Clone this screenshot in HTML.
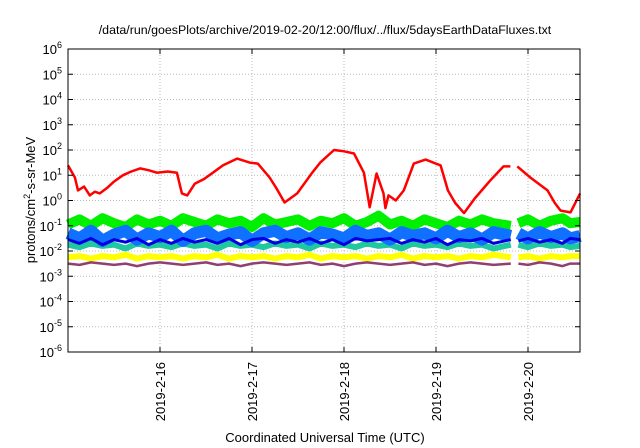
<!DOCTYPE html>
<html><head><meta charset="utf-8"><style>
body{margin:0;background:#fff;}
svg{display:block;font-family:"Liberation Sans",sans-serif;}
</style></head><body>
<svg id="chart" width="640" height="448" viewBox="0 0 640 448" xmlns="http://www.w3.org/2000/svg">
<rect width="640" height="448" fill="#fff"/>
<text x="325" y="34" font-size="12.4" text-anchor="middle">/data/run/goesPlots/archive/2019-02-20/12:00/flux/../flux/5daysEarthDataFluxes.txt</text>
<g id="grid"></g>
<g id="series"></g>
<rect x="68" y="49" width="512" height="303" fill="none" stroke="#000" stroke-width="1"/>
<g id="axes"></g>
<text transform="translate(35,200) rotate(-90)" font-size="13" text-anchor="middle">protons/cm<tspan dy="-5" font-size="9">2</tspan><tspan dy="5">-s-sr-MeV</tspan></text>
<text x="325" y="442" font-size="13" text-anchor="middle">Coordinated Universal Time (UTC)</text>
</svg>
<script>
const dayTicks = ["2019-2-16","2019-2-17","2019-2-18","2019-2-19","2019-2-20"];
const yTickExps = [-6,-5,-4,-3,-2,-1,0,1,2,3,4,5,6];
// red series: hours since 2019-02-15 00:00, log10 flux
const redHours = [0,1.8,2.6,4.2,5.7,7.0,8.3,10.2,12.0,14.3,16.5,18.8,21.0,23.2,26.0,28.4,29.7,31.1,33.1,35.5,37.8,40.4,44.1,47.4,49.5,52.6,54.5,56.5,59.8,63.7,65.8,69.4,72.0,74.6,77.2,78.7,80.5,82.3,82.8,83.6,85.5,87.6,90.2,93.3,97.2,99.1,101.0,103.3,106.1,110.2,113.6,115.4];
const redLog  = [1.39,0.91,0.4,0.55,0.2,0.35,0.28,0.5,0.75,1.0,1.15,1.27,1.2,1.1,1.15,1.1,0.28,0.2,0.67,0.85,1.1,1.39,1.66,1.5,1.46,0.91,0.45,-0.08,0.28,1.1,1.5,2.0,1.95,1.86,1.1,-0.27,1.07,0.28,-0.3,0.2,0.0,0.4,1.46,1.62,1.39,0.4,-0.1,-0.5,0.08,0.8,1.35,1.35];
const red2Hours = [117.2,120.6,125.1,127.0,128.5,131.1,133.6];
const red2Log  = [1.35,0.91,0.4,-0.1,-0.4,-0.47,0.28];
// noisy channels sampled every ~3 h
const chHours = [0,3,6,9,12,15,18,21,24,27,30,33,36,39,42,45,48,51,54,57,60,63,66,69,72,75,78,81,84,87,90,93,96,99,102,105,108,111,115.5,116.5,117.5,120,123,126,129,131,133.6];
const greenLog = [-0.95,-0.75,-1.0,-0.7,-0.9,-1.05,-0.75,-0.95,-0.8,-1.0,-0.7,-0.85,-1.0,-0.75,-0.9,-0.8,-1.05,-0.7,-0.95,-0.85,-0.75,-1.0,-0.8,-0.9,-0.7,-1.0,-0.85,-0.6,-0.95,-0.8,-1.0,-0.75,-0.9,-1.05,-0.8,-0.95,-0.75,-0.9,-1.0,null,-0.9,-0.75,-1.0,-0.8,-0.7,-0.9,-0.85];
const lblueLog = [-1.3,-1.5,-1.2,-1.6,-1.35,-1.2,-1.55,-1.3,-1.45,-1.2,-1.6,-1.3,-1.2,-1.5,-1.35,-1.25,-1.6,-1.3,-1.2,-1.45,-1.3,-1.55,-1.25,-1.35,-1.5,-1.2,-1.4,-1.3,-1.55,-1.25,-1.4,-1.3,-1.5,-1.2,-1.45,-1.3,-1.55,-1.25,-1.4,null,-1.3,-1.5,-1.25,-1.45,-1.3,-1.5,-1.4];
const dblueLog = [-1.55,-1.7,-1.5,-1.75,-1.55,-1.65,-1.5,-1.75,-1.55,-1.7,-1.5,-1.65,-1.55,-1.7,-1.5,-1.75,-1.55,-1.5,-1.7,-1.55,-1.65,-1.5,-1.7,-1.55,-1.75,-1.5,-1.6,-1.55,-1.5,-1.7,-1.55,-1.65,-1.5,-1.75,-1.55,-1.6,-1.5,-1.7,-1.55,null,-1.6,-1.5,-1.65,-1.55,-1.7,-1.5,-1.55];
const tealLog  = [-1.75,-1.85,-1.7,-1.8,-1.75,-1.9,-1.7,-1.8,-1.75,-1.85,-1.7,-1.8,-1.75,-1.9,-1.7,-1.8,-1.75,-1.85,-1.7,-1.8,-1.75,-1.9,-1.7,-1.8,-1.75,-1.85,-1.7,-1.8,-1.75,-1.9,-1.7,-1.8,-1.75,-1.85,-1.7,-1.8,-1.75,-1.9,-1.75,null,-1.75,-1.85,-1.7,-1.8,-1.75,-1.85,-1.8];
const yellowLog= [-2.25,-2.2,-2.3,-2.2,-2.25,-2.15,-2.3,-2.2,-2.25,-2.2,-2.3,-2.2,-2.25,-2.15,-2.3,-2.2,-2.25,-2.2,-2.3,-2.2,-2.25,-2.15,-2.3,-2.2,-2.25,-2.2,-2.3,-2.2,-2.25,-2.15,-2.3,-2.2,-2.25,-2.2,-2.3,-2.2,-2.25,-2.15,-2.25,null,-2.25,-2.2,-2.3,-2.2,-2.25,-2.2,-2.2];
const purpleLog= [-2.5,-2.55,-2.45,-2.5,-2.55,-2.5,-2.6,-2.5,-2.45,-2.5,-2.55,-2.5,-2.45,-2.55,-2.5,-2.6,-2.5,-2.45,-2.5,-2.55,-2.5,-2.45,-2.55,-2.5,-2.6,-2.5,-2.45,-2.5,-2.55,-2.5,-2.45,-2.55,-2.5,-2.6,-2.5,-2.45,-2.5,-2.55,-2.5,null,-2.5,-2.55,-2.45,-2.5,-2.6,-2.5,-2.5];

const NS="http://www.w3.org/2000/svg";
const X0=68,X1=580,Y0=352,Y1=49,PXDAY=92;
function xs(h){return X0+h/24*PXDAY;}
function ys(l){return Y0-(l+6)*(Y0-Y1)/12;}
const grid=document.getElementById('grid'),axes=document.getElementById('axes'),ser=document.getElementById('series');
function mk(tag,attrs,parent){const e=document.createElementNS(NS,tag);for(const k in attrs)e.setAttribute(k,attrs[k]);parent.appendChild(e);return e;}
yTickExps.forEach(ex=>{
  const y=ys(ex);
  if(ex>-6&&ex<6){const g=mk('line',{x1:X0,x2:X1,y1:y,y2:y,stroke:'#bbb','stroke-dasharray':'1,2'},grid);
  
  }
  const t1=mk('line',{x1:X0,x2:X0+5,y1:y,y2:y,stroke:'#000'},axes);
  
  
  const t2=mk('line',{x1:X1-5,x2:X1,y1:y,y2:y,stroke:'#000'},axes);
  
  
  const tx=mk('text',{x:62,y:y+5,'font-size':'13','text-anchor':'end'},axes);
  
  
  const a=document.createElementNS(NS,'tspan');a.textContent='10';tx.appendChild(a);
  const b=document.createElementNS(NS,'tspan');b.setAttribute('dy','-6');b.setAttribute('font-size','9');b.textContent=String(ex);tx.appendChild(b);
});
dayTicks.forEach((d,i)=>{
  const x=xs((i+1)*24);
  const g=mk('line',{x1:x,x2:x,y1:Y1,y2:Y0,stroke:'#bbb','stroke-dasharray':'1,2'},grid);
  
  
  const t=mk('line',{x1:x,x2:x,y1:Y0-5,y2:Y0,stroke:'#000'},axes);
  
  
  const t2=mk('line',{x1:x,x2:x,y1:Y1,y2:Y1+5,stroke:'#000'},axes);
  
  
  const tx=mk('text',{transform:`translate(${x+5},362) rotate(-90)`,'font-size':'13','text-anchor':'end'},axes);
  
  
  tx.textContent=d;
});
function line(hours,vals,color,w,name){
  let d='',pen=false;
  hours.forEach((h,i)=>{const v=vals[i];if(v===null||v===undefined){pen=false;return;}
    d+=(pen?'L':'M')+xs(h).toFixed(1)+' '+ys(v).toFixed(1)+' ';pen=true;});
  const p=mk('path',{d:d,fill:'none',stroke:color,'stroke-width':w,'stroke-linejoin':'round'},ser);
  
  
}
line(chHours,greenLog,'#00f000',10,'series-green');
line(chHours,tealLog,'#20c8a0',6,'series-teal');
line(chHours,lblueLog,'#1070ff',12,'series-light-blue');
line(chHours,dblueLog,'#0000e0',3,'series-dark-blue');
line(chHours,yellowLog,'#ffff00',6,'series-yellow');
line(chHours,purpleLog,'#904070',2.5,'series-purple');
line(redHours,redLog,'#ff0000',2.5,'series-red');
line(red2Hours,red2Log,'#ff0000',2.5,'series-red-after-gap');
</script>
</body></html>
